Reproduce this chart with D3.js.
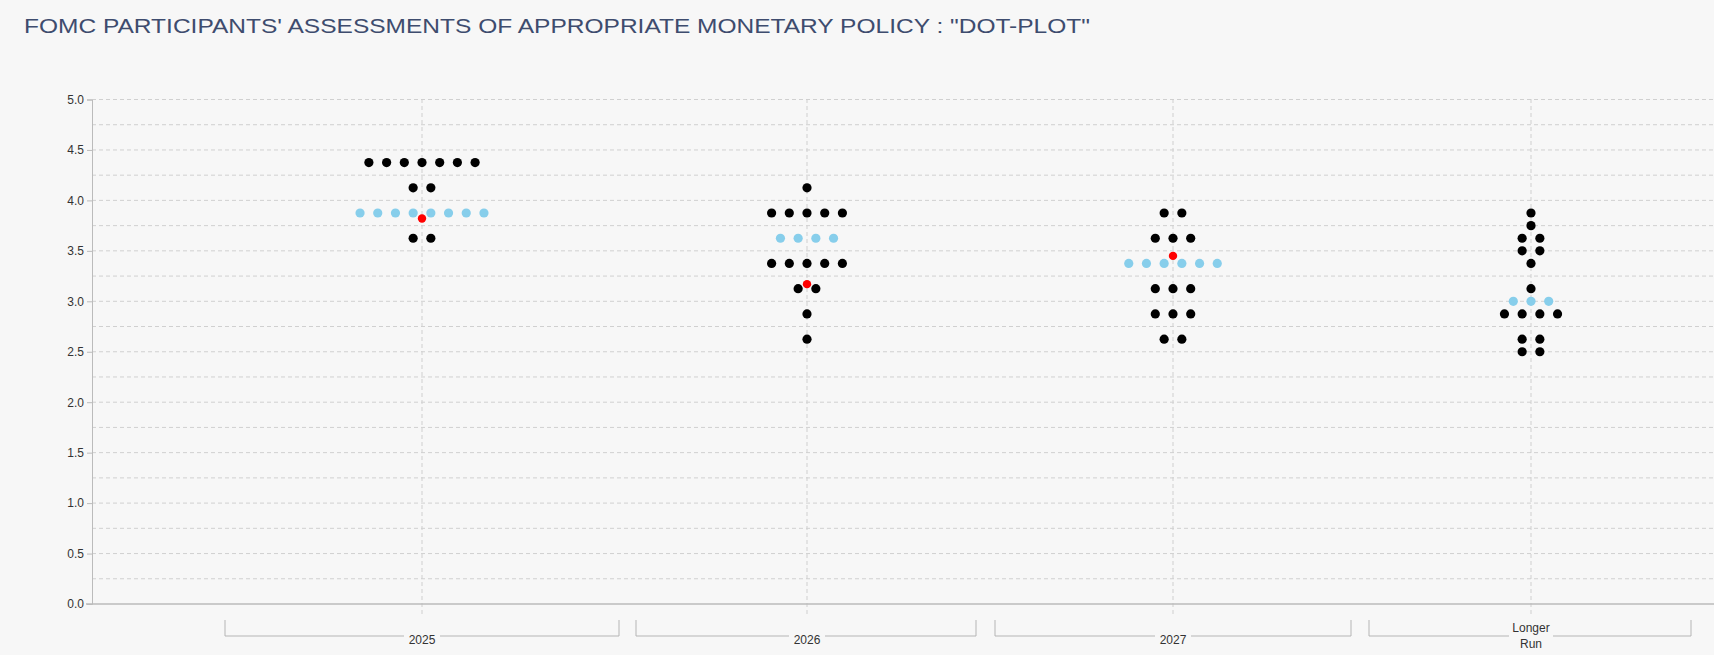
<!DOCTYPE html>
<html><head><meta charset="utf-8">
<script src="https://cdn.jsdelivr.net/npm/d3@7"></script>
<style>body{margin:0;background:#f7f7f7;}svg{display:block;font-family:"Liberation Sans",Arial,sans-serif;}</style>
</head><body><svg id="c" width="1714" height="655"></svg>
<script>
const categories = ["2025","2026","2027","Longer Run"];
// [rate, count] per category for participants' dots
const dots2025 = [[4.375,7],[4.125,2],[3.625,2]];
const dots2026 = [[4.125,1],[3.875,5],[3.375,5],[3.125,2],[2.875,1],[2.625,1]];
const dots2027 = [[3.875,2],[3.625,3],[3.125,3],[2.875,3],[2.625,2]];
const dotsLR = [[3.875,1],[3.75,1],[3.625,2],[3.5,2],[3.375,1],[3.125,1],[2.875,4],[2.625,2],[2.5,2]];
const medians = [[3.875,8],[3.625,4],[3.375,6],[3.0,3]];
const redValues = [3.82,3.17,3.45,null];
const yTicks = [0,0.5,1,1.5,2,2.5,3,3.5,4,4.5,5];

const svg = d3.select("#c");
const xPos = [422,807,1173,1531];
const brackets = [[225,619],[636,976],[995,1351],[1369,1691]];
const y = d3.scaleLinear().domain([0,5]).range([604,99.5]);
const x = d3.scaleOrdinal().domain(categories).range(xPos);
const gap = 17.7;

svg.append("text").attr("x",24).attr("y",33).attr("fill","#3e4c6e").attr("font-size",21)
  .attr("textLength",1066).attr("lengthAdjust","spacingAndGlyphs")
  .text("FOMC PARTICIPANTS' ASSESSMENTS OF APPROPRIATE MONETARY POLICY : \"DOT-PLOT\"");

svg.append("g").selectAll("line").data(d3.range(1,21).map(i=>i*0.25)).join("line")
  .attr("x1",92).attr("x2",1714).attr("y1",d=>y(d)).attr("y2",d=>y(d))
  .attr("stroke","#d0d0d0").attr("stroke-dasharray","4,3");
svg.append("g").selectAll("line").data(categories).join("line")
  .attr("x1",d=>x(d)).attr("x2",d=>x(d)).attr("y1",99).attr("y2",614)
  .attr("stroke","#cfcfcf").attr("stroke-dasharray","4,3");

const ya = svg.append("g").attr("transform","translate(92,0)")
  .call(d3.axisLeft(y).tickValues(yTicks).tickFormat(d3.format(".1f")).tickSize(5));
ya.select(".domain").attr("stroke","#bbb");
ya.selectAll(".tick line").attr("stroke","#bbb");
ya.selectAll("text").attr("fill","#333").attr("font-size",12);
svg.append("line").attr("x1",86).attr("x2",1714).attr("y1",y(0)).attr("y2",y(0)).attr("stroke","#bbb").attr("stroke-width",1.5);

const bg = svg.append("g");
brackets.forEach((b,i)=>{
  bg.append("path").attr("d",`M${b[0]},620V636H${b[1]}V620`).attr("fill","none").attr("stroke","#b5b5b5");
});
const labs = svg.append("g");
categories.forEach((c,i)=>{
  const w = c==="Longer Run"?44:36;
  labs.append("rect").attr("x",xPos[i]-w/2).attr("y",629).attr("width",w).attr("height",14).attr("fill","#f7f7f7");
  if(c==="Longer Run"){
    labs.append("text").attr("x",xPos[i]).attr("y",632).attr("text-anchor","middle").attr("font-size",12).attr("fill","#333").text("Longer");
    labs.append("text").attr("x",xPos[i]).attr("y",648).attr("text-anchor","middle").attr("font-size",12).attr("fill","#333").text("Run");
  } else {
    labs.append("text").attr("x",xPos[i]).attr("y",644).attr("text-anchor","middle").attr("font-size",12).attr("fill","#333").text(c);
  }
});

function expand(rows, ci){
  const out=[];
  rows.forEach(([v,n])=>{for(let k=0;k<n;k++) out.push({cx:x(categories[ci])+(k-(n-1)/2)*gap, v});});
  return out;
}
const all = [dots2025,dots2026,dots2027,dotsLR].flatMap((r,i)=>expand(r,i));
svg.append("g").selectAll("circle").data(all).join("circle")
  .attr("cx",d=>d.cx).attr("cy",d=>y(d.v)).attr("r",4.6).attr("fill","#000");
const med = medians.flatMap((m,i)=>expand([m],i));
svg.append("g").selectAll("circle").data(med).join("circle")
  .attr("cx",d=>d.cx).attr("cy",d=>y(d.v)).attr("r",4.6).attr("fill","#87ceeb");
svg.append("g").selectAll("circle").data(redValues.map((v,i)=>({v,i})).filter(d=>d.v!=null)).join("circle")
  .attr("cx",d=>x(categories[d.i])).attr("cy",d=>y(d.v)).attr("r",4.2).attr("fill","#ff0000");
</script></body></html>
